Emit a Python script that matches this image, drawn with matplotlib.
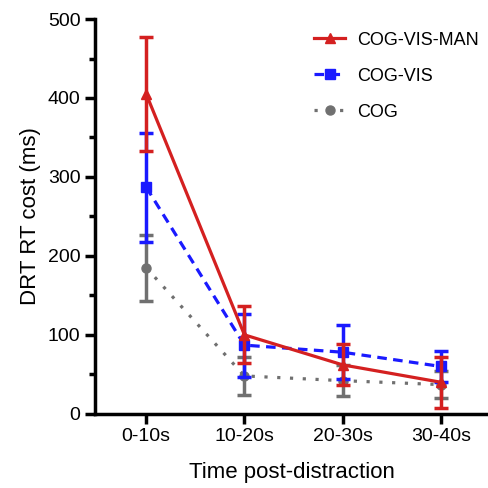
import matplotlib
matplotlib.use("Agg")
import matplotlib.pyplot as plt
from matplotlib.lines import Line2D
import numpy as np

plt.rcParams['font.family'] = ['Liberation Sans', 'DejaVu Sans']

# Data
periods = ['0-10s', '10-20s', '20-30s', '30-40s']

cvm_mean = [405, 100, 62, 40]
cvm_err = [72, 36, 26, 32]

cv_mean = [287, 87, 78, 60]
cv_err = [69, 40, 34, 20]

cog_mean = [185, 48, 42, 37]
cog_err = [42, 24, 20, 17]

RED = '#d42020'
BLUE = '#1a1aff'
GRAY = '#707070'

styles = [
    ('COG-VIS-MAN', cvm_mean, cvm_err, RED, '-', '^'),
    ('COG-VIS', cv_mean, cv_err, BLUE, (0, (3, 2)), 's'),
    ('COG', cog_mean, cog_err, GRAY, (0, (1, 3)), 'o'),
]

fig = plt.figure(figsize=(4.88, 4.88), dpi=100)
ax = fig.add_axes([0.195, 0.152, 0.805, 0.809])

x = np.arange(len(periods))

handles = []
for z, (label, mean, err, color, ls, mk) in zip([4, 3, 2], styles):
    ax.errorbar(x, mean, yerr=err, color=color, linestyle=ls, linewidth=2.3,
                marker=mk, markersize=6.5, capsize=5, elinewidth=2.5, capthick=2.5,
                zorder=z)
    handles.append(Line2D([], [], color=color, linestyle=ls, linewidth=2.3,
                          marker=mk, markersize=6.5, label=label))

ax.set_xlim(-0.52, 3.48)
ax.set_ylim(0, 500)
ax.set_xticks(x)
ax.set_xticklabels(periods, fontsize=14)
ax.set_yticks(np.arange(0, 501, 100))
ax.set_yticks(np.arange(50, 500, 100), minor=True)
ax.tick_params(axis='y', labelsize=14, width=2.5, length=7)
ax.tick_params(axis='y', which='minor', width=2.5, length=4)
ax.tick_params(axis='x', width=2.5, length=7)

for side in ['top', 'right']:
    ax.spines[side].set_visible(False)
for side in ['left', 'bottom']:
    ax.spines[side].set_linewidth(2.5)

ax.set_ylabel('DRT RT cost (ms)', fontsize=16, labelpad=5)
ax.set_xlabel('Time post-distraction', fontsize=16, labelpad=12)

ax.legend(handles=handles, loc='upper right', frameon=False, fontsize=13,
          handlelength=1.7, handletextpad=0.7, labelspacing=1.05,
          borderaxespad=0.3, bbox_to_anchor=(1.01, 1.0))

fig.savefig('out.png', dpi=100, facecolor='white')
